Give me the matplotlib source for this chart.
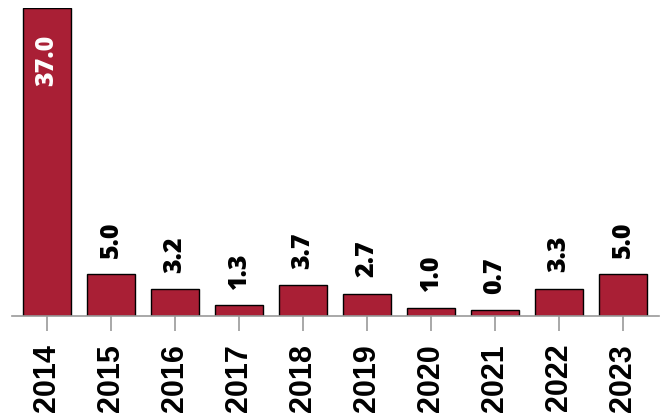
import matplotlib
matplotlib.use("Agg")
import matplotlib.pyplot as plt
import numpy as np

# data
years = ["2014", "2015", "2016", "2017", "2018", "2019", "2020", "2021", "2022", "2023"]
values = [37.0, 5.0, 3.2, 1.3, 3.7, 2.7, 1.0, 0.7, 3.3, 5.0]

bar_color = "#A91F35"
x = np.arange(len(years))

fig = plt.figure(figsize=(6.67, 4.17), dpi=100)
ax = fig.add_axes([0.018, 0.242, 0.970, 0.7386])

bars = ax.bar(x, values, width=0.76, color=bar_color, edgecolor="black", linewidth=1.0, zorder=2)

ax.set_xlim(-0.547, 9.5625)
ax.set_ylim(0, max(values))

# value labels, white inside the tall bar, black above the others
for xi, v in zip(x, values):
    if v > 20:
        ax.annotate(f"{v:.1f}", (xi, v), xytext=(0, -19), textcoords="offset points",
                    rotation=90, ha="center", va="top", color="white",
                    fontsize=18, fontweight=800, family="Open Sans")
    else:
        ax.annotate(f"{v:.1f}", (xi, v), xytext=(0, 12), textcoords="offset points",
                    rotation=90, ha="center", va="bottom", color="black",
                    fontsize=18, fontweight=800, family="Open Sans")

# axes styling
for s in ["top", "right", "left"]:
    ax.spines[s].set_visible(False)
ax.spines["bottom"].set_color("#999999")
ax.spines["bottom"].set_linewidth(1.2)
ax.set_yticks([])
ax.set_xticks(x)
ax.set_xticklabels(years, rotation=90, fontsize=22, fontweight="bold", family="Liberation Sans")
ax.tick_params(axis="x", length=11, width=1.2, color="#999999", pad=9)

fig.savefig("out.png", dpi=100)
